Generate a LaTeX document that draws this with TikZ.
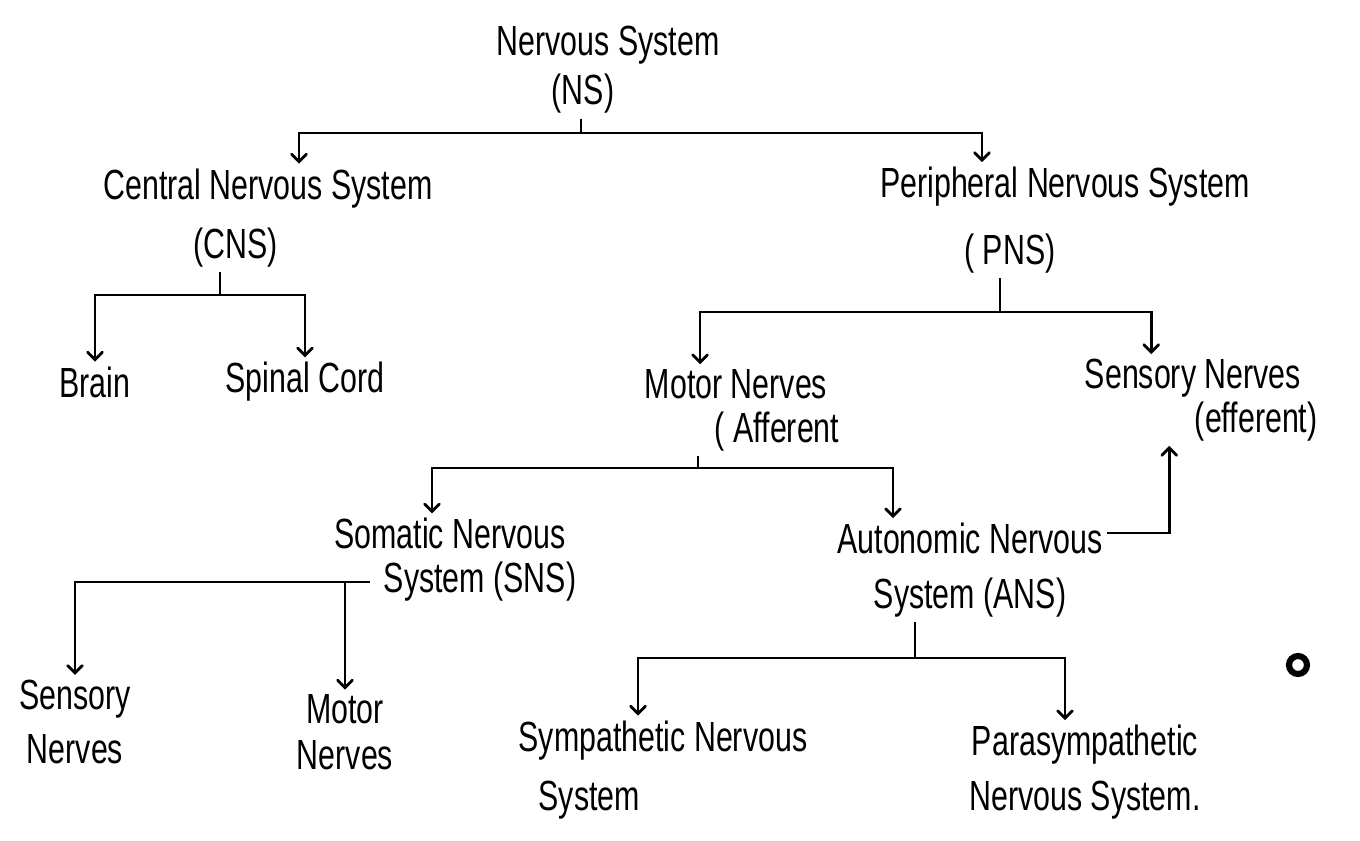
\documentclass[tikz,border=0pt]{standalone}
\usepackage{fontspec}
\setmainfont{Liberation Sans}[FakeStretch=0.72]
\usetikzlibrary{arrows}

\begin{document}
\begin{tikzpicture}[x=0.02cm,y=-0.02cm,>=angle 90,line width=1.6pt]
\tikzstyle{lbl}=[align=center,inner sep=2pt,font=\fontsize{24}{31}\selectfont]
\useasboundingbox (0,0) rectangle (1360,841);
  \node(ns)at(608,70)[lbl,font=\fontsize{24}{28}\selectfont]{Nervous System\\(NS)\hspace*{1cm}};
  \node(cns)at(268,218)[lbl,font=\fontsize{24}{34}\selectfont]{Central Nervous System\\(CNS)\hspace*{1.3cm}};
  \node(pns)at(1065,220)[lbl,font=\fontsize{24}{38}\selectfont]{Peripheral Nervous System\\( PNS)\hspace*{2.2cm}};
  \node(brain)at(95,382)[lbl]{Brain};
  \node(cord)at(305,382)[lbl]{Spinal Cord};
  \node(mot)at(640,410)[lbl,anchor=west,align=left,font=\fontsize{24}{25}\selectfont]{Motor Nerves\\\hspace*{1.4cm}( Afferent};
  \node(sen)at(1080,400)[lbl,anchor=west,align=left,font=\fontsize{24}{25}\selectfont]{Sensory Nerves\\\hspace*{2.2cm}(efferent)};
  \node(sns)at(450,560)[lbl,font=\fontsize{24}{25}\selectfont]{Somatic Nervous\\\hspace*{1.2cm}System (SNS)};
  \node(ans)at(970,570)[lbl]{Autonomic Nervous\\System (ANS)};
  \node(sen2)at(75,722)[lbl]{Sensory\\Nerves};
  \node(mot2)at(345,732)[lbl,font=\fontsize{24}{26}\selectfont]{Motor\\Nerves};
  \node(sym)at(663,770)[lbl,align=left,font=\fontsize{24}{34}\selectfont]{Sympathetic Nervous\\\hspace*{0.4cm}System};
  \node(para)at(1085,772)[lbl]{Parasympathetic\\Nervous System.};
  \node(dot)at(1298,665)[circle,draw,line width=3.5pt,minimum size=0.36cm,inner sep=0pt]{};
  % junctions
  \coordinate(j1)at(581,133);
  \coordinate(j2)at(220,295);
  \coordinate(j3)at(1000,312);
  \coordinate(j4)at(698,468);
  \coordinate(j5)at(370,582);
  \coordinate(j6)at(915,658);
  % NS
  \draw(ns.south -| j1)--(j1);
  \draw[->](j1)-|([xshift=0.62cm]cns.north);
  \draw[->](j1)-|([xshift=-1.66cm]pns.north);
  % CNS
  \draw(cns.south -| j2)--(j2);
  \draw[->](j2)-|(brain);
  \draw[->](j2)-|(cord);
  % PNS
  \draw(pns.south -| j3)--(j3);
  \draw[->](j3)-|([xshift=-0.84cm]mot.north);
  \draw[->](j3)-|([xshift=-1cm]sen.north);
  % motor nerves
  \draw(mot.south -| j4)--(j4);
  \draw[->](j4)-|([xshift=-0.36cm]sns.north);
  \draw[->](j4)-|([xshift=-1.54cm]ans.north);
  \draw[->]([yshift=0.74cm]ans.east)-|([xshift=-0.64cm]sen.south);
  % SNS
  \draw[->](j5)-|(sen2);
  \draw[->](j5 -| mot2)--(mot2);
  % ANS
  \draw(ans.south -| j6)--(j6);
  \draw[->](j6)-|([xshift=-0.5cm]sym.north);
  \draw[->](j6)-|([xshift=-0.4cm]para.north);
\end{tikzpicture}
\end{document}
